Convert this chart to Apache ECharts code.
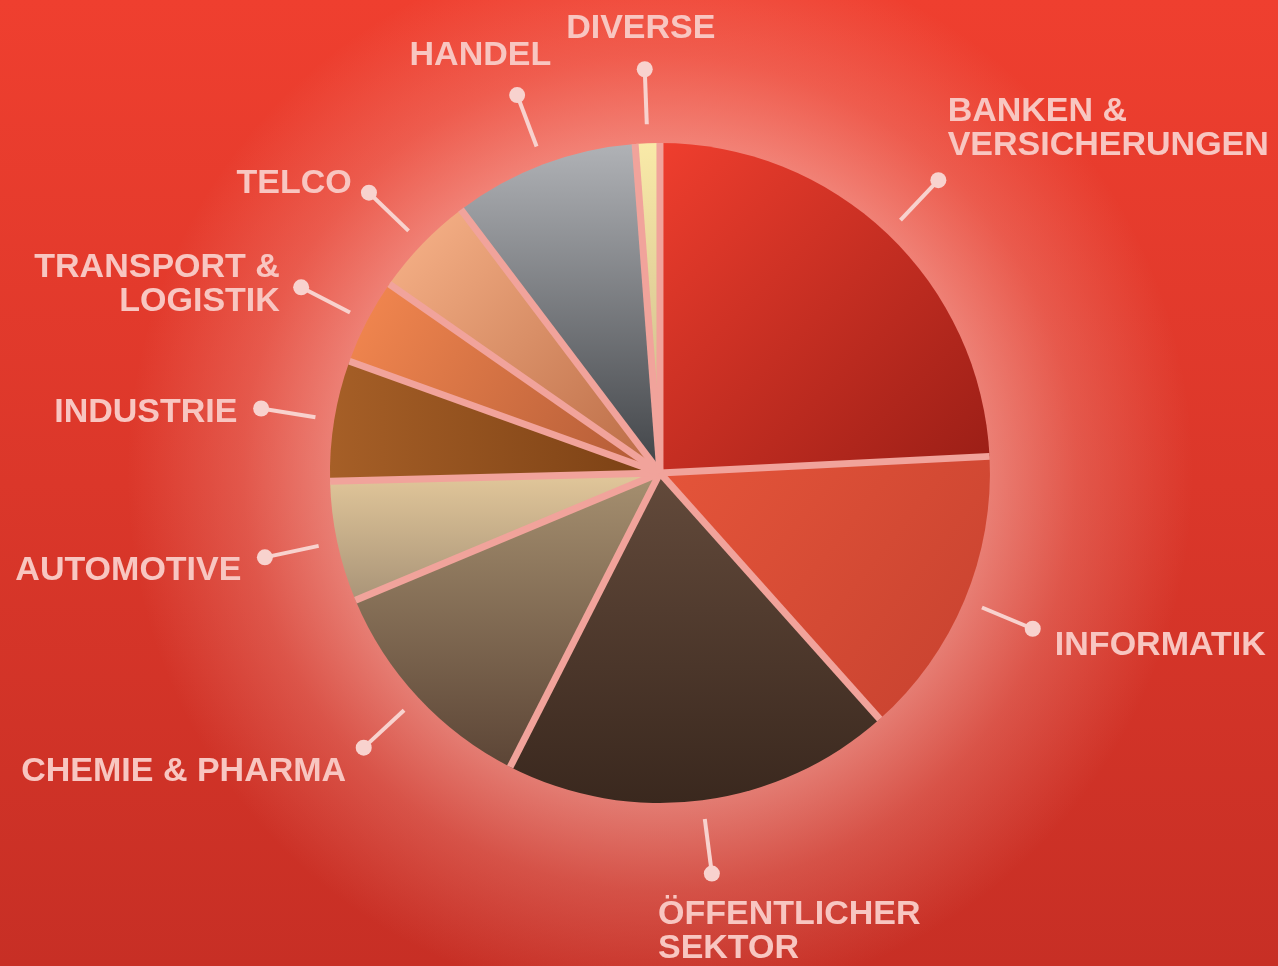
<!DOCTYPE html>
<html>
<head>
<meta charset="utf-8">
<script src="https://cdn.jsdelivr.net/npm/echarts@6/dist/echarts.min.js"></script>
<style>
  html, body { margin: 0; padding: 0; }
  #chart { width: 1278px; height: 966px; }
</style>
</head>
<body>
<div id="chart"></div>
<script>
// sectors, clockwise from 12 o'clock
const sectors = [
  'BANKEN &\nVERSICHERUNGEN',
  'INFORMATIK',
  'ÖFFENTLICHER\nSEKTOR',
  'CHEMIE & PHARMA',
  'AUTOMOTIVE',
  'INDUSTRIE',
  'TRANSPORT &\nLOGISTIK',
  'TELCO',
  'HANDEL',
  'DIVERSE',
];
// share in %
const shares = [24.2, 14.2, 19.1, 11.2, 5.9, 5.9, 4.2, 5.0, 9.1, 1.2];

// slice gradients (light end, dark end, direction)
const sliceLight = ['#ef3e2e', '#e5553a', '#634a3b', '#a69070', '#e2c79a', '#a65f27', '#f58850', '#f9b48a', '#b0b2b6', '#f9eaa8'];
const sliceDark = ['#9a1e16', '#c6412f', '#3a281e', '#5c4536', '#a99478', '#7a4014', '#b05a36', '#b96a44', '#404347', '#c8b488'];
const sliceDir = ['diag', 'diag', 'vert', 'vert', 'vert', 'horz', 'diag', 'diag', 'vert', 'vert'];

const PIE_R = 330;
const LINE_FROM = 349;
const LINE_TO = 404;
const TEXT_R = 428;
const CENTER = ['51.64%', '48.96%'];
const GAP = '#f1a39b';
const INK = '#f8d2ce';

const chart = echarts.init(document.getElementById('chart'));
const W = chart.getWidth();
const H = chart.getHeight();

const total = shares.reduce((a, b) => a + b, 0);
let acc = 0;
const starts = [];
const mids = shares.map((v) => {
  starts.push(acc);
  const m = acc + v / 2;
  acc += v;
  return m;
});

const grad = (i) => {
  const d = sliceDir[i];
  const x2 = d === 'vert' ? 0 : 1;
  const y2 = d === 'horz' ? 0 : 1;
  return new echarts.graphic.LinearGradient(0, 0, x2, y2, [
    { offset: 0, color: sliceLight[i] },
    { offset: 1, color: sliceDark[i] },
  ]);
};

const option = {
  animation: false,
  graphic: {
    elements: [
      {
        type: 'rect',
        silent: true,
        z: -10,
        shape: { x: 0, y: 0, width: W, height: H },
        style: {
          fill: new echarts.graphic.LinearGradient(0, 0, 0, 1, [
            { offset: 0, color: '#ef3f2f' },
            { offset: 1, color: '#c72f25' },
          ]),
        },
      },
      {
        type: 'rect',
        silent: true,
        z: -9,
        shape: { x: 0, y: 0, width: W, height: H },
        style: {
          // soft glow behind the pie
          fill: new echarts.graphic.RadialGradient(0.5164, 0.4896, 0.6, [
            { offset: 0, color: 'rgba(255,228,222,0.75)' },
            { offset: 0.55, color: 'rgba(255,225,218,0.45)' },
            { offset: 0.72, color: 'rgba(255,215,205,0.2)' },
            { offset: 0.92, color: 'rgba(255,210,200,0)' },
          ]),
        },
      },
    ],
  },
  polar: { center: CENTER, radius: 500 },
  angleAxis: { type: 'value', min: 0, max: total, startAngle: 90, clockwise: true, show: false },
  radiusAxis: { type: 'value', min: 0, max: 500, show: false },
  series: [
    {
      type: 'pie',
      z: 2,
      center: CENTER,
      radius: [0, PIE_R],
      startAngle: 90,
      clockwise: true,
      silent: true,
      label: { show: false },
      labelLine: { show: false },
      data: sectors.map((name, i) => ({
        name: name,
        value: shares[i],
        itemStyle: { color: grad(i) },
      })),
    },
    {
      // pink gaps between slices (no rim on the outside)
      type: 'custom',
      coordinateSystem: 'polar',
      z: 5,
      silent: true,
      clip: false,
      data: starts.map((b) => [PIE_R, b]),
      renderItem: (params, api) => {
        const b = api.value(1);
        const p0 = api.coord([0, b]);
        const p1 = api.coord([PIE_R, b]);
        return {
          type: 'line',
          z2: 10,
          shape: { x1: p0[0], y1: p0[1], x2: p1[0], y2: p1[1] },
          style: { stroke: GAP, lineWidth: 7, lineCap: 'butt' },
        };
      },
    },
    {
      // label line, dot and text per sector
      type: 'custom',
      coordinateSystem: 'polar',
      z: 5,
      silent: true,
      data: mids.map((m) => [LINE_TO, m]),
      renderItem: (params, api) => {
        const mid = api.value(1);
        const theta = (mid / total) * Math.PI * 2;
        const s = Math.sin(theta);
        const c = Math.cos(theta);
        const p1 = api.coord([LINE_FROM, mid]);
        const p2 = api.coord([LINE_TO, mid]);
        const pt = api.coord([TEXT_R, mid]);
        const align = s > 0.1 ? 'left' : s < -0.4 ? 'right' : 'center';
        const vAlign = c > 0.7 ? 'bottom' : c < -0.7 ? 'top' : 'middle';
        let tx = pt[0];
        let ty = pt[1];
        if (vAlign === 'middle') {
          ty += 8;
        } else if (align === 'left') {
          tx -= 75 * Math.pow(1 - Math.abs(s), 2);
        } else if (align === 'center') {
          tx += s * 80;
        }
        return {
          type: 'group',
          children: [
            {
              type: 'line',
              shape: { x1: p1[0], y1: p1[1], x2: p2[0], y2: p2[1] },
              style: { stroke: INK, lineWidth: 4 },
            },
            {
              type: 'circle',
              shape: { cx: p2[0], cy: p2[1], r: 8 },
              style: { fill: INK },
            },
            {
              type: 'text',
              x: tx,
              y: ty,
              style: {
                text: sectors[params.dataIndex],
                fill: '#f8c6c1',
                font: 'bold 34px "Liberation Sans", Arial, sans-serif',
                lineHeight: 34,
                align: align,
                verticalAlign: vAlign,
              },
            },
          ],
        };
      },
    },
  ],
};

chart.setOption(option);
</script>
</body>
</html>
